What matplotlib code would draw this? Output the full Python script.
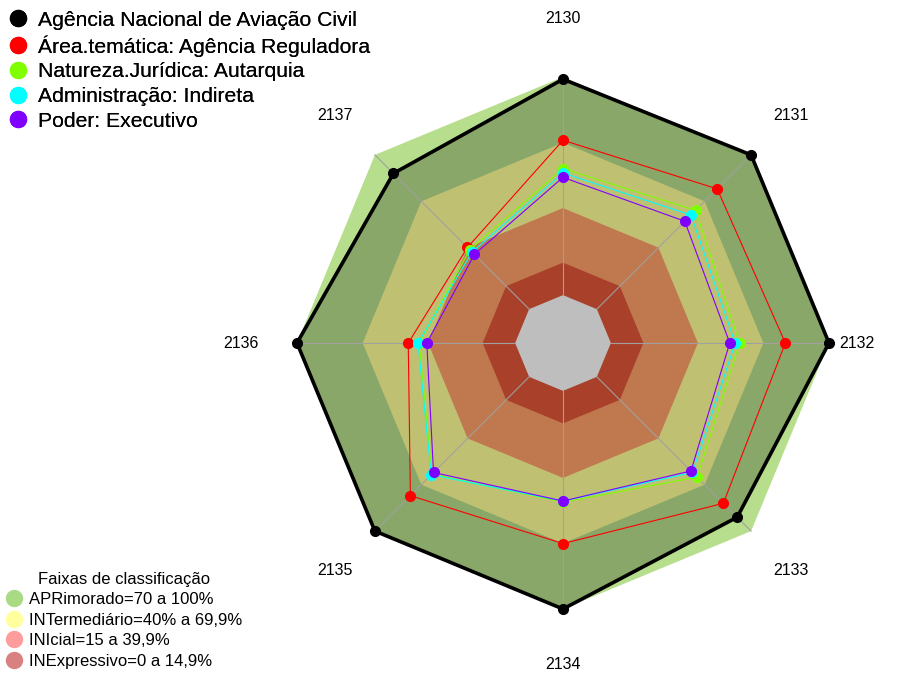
import numpy as np
import matplotlib.pyplot as plt
from matplotlib.lines import Line2D

plt.rcParams['font.family'] = ['Liberation Sans', 'DejaVu Sans']

# eixos do radar (sentido horario a partir do topo)
eixos = ['2130', '2131', '2132', '2133', '2134', '2135', '2136', '2137']

# valores em %
orgao = [99, 100, 100, 91, 100, 100, 100, 88]
area_tematica = [71, 78, 80, 82, 70, 77, 49, 40]
natureza = [58, 64, 59, 65, 51, 63, 44, 38.5]
administracao = [56, 61, 57, 62, 50.5, 63.5, 44.5, 37]
poder = [54, 57, 54.5, 61, 50.5, 62, 40.5, 35.5]

series_nomes = ['Agência Nacional de Aviação Civil',
                'Área.temática: Agência Reguladora',
                'Natureza.Jurídica: Autarquia',
                'Administração: Indireta',
                'Poder: Executivo']
series_valores = [orgao, area_tematica, natureza, administracao, poder]
series_cores = ['black', '#FF0000', '#7FFF00', '#00FFFF', '#7F00FF']

faixas_nomes = ['APRimorado=70 a 100%', 'INTermediário=40% a 69,9%',
                'INIcial=15 a 39,9%', 'INExpressivo=0 a 14,9%']
faixas_limites = [100, 69.9, 39.9, 14.9]
faixas_cores = ['#B7DE8C', '#C0C073', '#C0784E', '#A8402A']
faixas_legenda = ['#ABDA85', '#FFFF9E', '#FF9C9C', '#D98080']
cor_interna = '#89A768'   # verde escurecido dentro do poligono do orgao
cor_centro = '#BEBEBE'

HOLE = 0.18  # raio do "buraco" central (fração do raio)


def to_xy(vals):
    vals = np.asarray(vals, dtype=float)
    n = len(vals)
    theta = np.pi / 2 - 2 * np.pi * np.arange(n) / n
    r = HOLE + (1 - HOLE) * vals / 100.0
    x = r * np.cos(theta)
    y = r * np.sin(theta)
    return np.append(x, x[0]), np.append(y, y[0])


n = len(eixos)
fig = plt.figure(figsize=(9.05, 6.75), dpi=100)
ax = fig.add_axes([0, 0, 1, 1])
R = 266.0
ax.set_xlim(-563 / R, (905 - 563) / R)
ax.set_ylim(-(675 - 343) / R, 343 / R)
ax.axis('off')

# faixas de classificacao
x, y = to_xy([faixas_limites[0]] * n)
ax.fill(x, y, color=faixas_cores[0], lw=0, zorder=1)
x, y = to_xy(orgao)
ax.fill(x, y, color=cor_interna, lw=0, zorder=1)
for lim, cor in zip(faixas_limites[1:], faixas_cores[1:]):
    x, y = to_xy([lim] * n)
    ax.fill(x, y, color=cor, lw=0, zorder=1)
x, y = to_xy([0] * n)
ax.fill(x, y, color=cor_centro, lw=0, zorder=1)

# linhas dos eixos
x0, y0 = to_xy([0] * n)
x1, y1 = to_xy([100] * n)
for i in range(n):
    ax.plot([x0[i], x1[i]], [y0[i], y1[i]], color='#A0A0A0', lw=0.8, zorder=2)

# rotulos dos eixos
label_r = [1.22, 1.21, 1.105, 1.21, 1.21, 1.21, 1.21, 1.21]
for i, lab in enumerate(eixos):
    th = np.pi / 2 - 2 * np.pi * i / n
    ax.text(label_r[i] * np.cos(th), label_r[i] * np.sin(th), lab,
            ha='center', va='center', fontsize=11.5)

# series
for k, (vals, cor) in enumerate(zip(series_valores, series_cores)):
    x, y = to_xy(vals)
    lw = 2.6 if k == 0 else 0.8
    ax.plot(x, y, color=cor, lw=lw, zorder=3 + k)
    ax.plot(x[:-1], y[:-1], 'o', color=cor, markersize=7, zorder=3 + k)

handles1 = [Line2D([], [], marker='o', ls='', color=c, markersize=11.5)
            for c in series_cores]
leg1 = fig.legend(handles1, series_nomes, loc='upper left', bbox_to_anchor=(0, 1),
                  frameon=False, fontsize=15.2, borderaxespad=0, borderpad=0.5,
                  handlelength=0.73, handletextpad=0.55, labelspacing=0.27)

handles2 = [Line2D([], [], marker='o', ls='', color=c, markersize=11.5)
            for c in faixas_legenda]
leg2 = fig.legend(handles2, faixas_nomes, loc='lower left', bbox_to_anchor=(0, 0),
                  frameon=False, fontsize=12, title='Faixas de classificação',
                  title_fontsize=12, borderaxespad=0, borderpad=0.38,
                  handlelength=0.96, handletextpad=0.42, labelspacing=0.33)
fig.add_artist(leg1)

fig.savefig('out.png', dpi=100)
